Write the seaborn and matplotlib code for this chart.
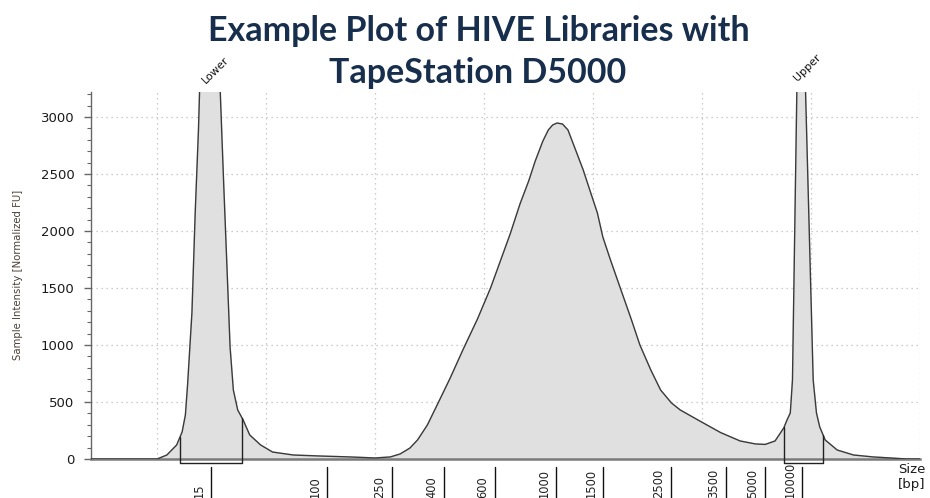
import numpy as np
import pandas as pd
import matplotlib
matplotlib.use("Agg")
import matplotlib.pyplot as plt
import seaborn as sns
from matplotlib.ticker import MultipleLocator

# electropherogram trace: migration position (grid units) vs. intensity [FU]
trace_pos = [0.39, 1.00, 1.09, 1.18, 1.23, 1.26, 1.28, 1.32, 1.35, 1.38, 1.39,
             1.495,
             1.58, 1.61, 1.64, 1.67, 1.70, 1.74, 1.79, 1.85, 1.95, 2.06, 2.25,
             2.50, 2.77, 3.00, 3.14, 3.23, 3.32, 3.39, 3.48, 3.57, 3.69, 3.81,
             3.94, 4.06, 4.15, 4.24, 4.33, 4.41, 4.47, 4.54, 4.59, 4.63, 4.67,
             4.72, 4.77, 4.84, 4.91, 4.97, 5.04, 5.09, 5.16, 5.25, 5.35, 5.43,
             5.53, 5.62, 5.72, 5.80, 5.98, 6.17, 6.35, 6.49, 6.58, 6.67, 6.75,
             6.78, 6.81, 6.83, 6.87,
             6.908,
             6.95, 7.02, 7.05, 7.08, 7.13, 7.24, 7.39, 7.57, 7.73, 7.88, 8.00]
trace_fu = [0, 0, 35, 123, 237, 386, 649, 1281, 2158, 2886, 3219,
            5600,
            3219, 2447, 1719, 982, 605, 430, 342, 211, 123, 61, 35,
            26, 18, 9, 18, 44, 96, 167, 298, 474, 711, 965,
            1228, 1500, 1737, 1974, 2237, 2439, 2614, 2789, 2886, 2930, 2947,
            2938, 2886, 2711, 2535, 2360, 2158, 1947, 1746, 1500, 1228, 1000,
            781, 605, 491, 430, 333, 232, 158, 132, 128, 158, 272,
            342, 404, 693, 3219,
            5000,
            3219, 693, 404, 281, 167, 79, 35, 18, 9, 0, 0]

# ladder sizes and where they sit on the run
ladder_bp = ["15", "100", "250", "400", "600", "1000", "1500", "2500",
             "3500", "5000", "10000"]
ladder_pos = [1.495, 2.56, 3.156, 3.633, 4.101, 4.661, 5.092, 5.716,
              6.22, 6.578, 6.917]

# marker peaks and their integration windows
marker_names = ["Lower", "Upper"]
marker_from = [1.211, 6.752]
marker_to = [1.780, 7.110]

W, H = 930, 498


def fig_xy(px, py):
    return px / W, 1 - py / H


sns.set_theme(style="white")
plt.rcParams["font.family"] = ["DejaVu Sans"]

fig = plt.figure(figsize=(W / 100, H / 100), dpi=100)
ax = fig.add_axes([91 / W, (H - 459) / H, (920 - 91) / W, (459 - 92) / H])

df = pd.DataFrame({"pos": trace_pos, "fu": trace_fu})
ax.fill_between(df["pos"], df["fu"], 0, color="#e0e0e0", zorder=1)
sns.lineplot(data=df, x="pos", y="fu", sort=False, ax=ax, color="#3a3a3a",
             lw=1.0, zorder=3)

ax.set_xlim(0.394, 8.0)
ax.set_ylim(0, 3219)

# dotted grid
ax.set_xticks(np.arange(1, 9))
ax.set_yticks(np.arange(0, 3001, 500))
ax.yaxis.set_minor_locator(MultipleLocator(100))
ax.grid(True, which="major", color="#bdbdbd", linestyle=(0, (1, 3)), lw=0.9)
ax.tick_params(axis="x", length=0, labelbottom=False)
ax.tick_params(axis="y", which="major", direction="out", length=5, width=1,
               color="#666666", pad=7, labelsize=9.5, labelcolor="#1a1a1a",
               left=True)
ax.tick_params(axis="y", which="minor", direction="out", length=3, width=0.8,
               color="#666666", left=True)

for s in ["top", "right"]:
    ax.spines[s].set_visible(False)
ax.spines["left"].set_color("#666666")
ax.spines["left"].set_linewidth(1.0)
ax.spines["bottom"].set_color("#7a7a7a")
ax.spines["bottom"].set_linewidth(1.8)
ax.spines["bottom"].set_zorder(2)
ax.set_xlabel("")
ax.set_ylabel("")

# marker brackets below the baseline
ybr = -35
for a, b in zip(marker_from, marker_to):
    ha_ = np.interp(a, trace_pos, trace_fu)
    hb_ = np.interp(b, trace_pos, trace_fu)
    ax.plot([a, a, b, b], [ha_, ybr, ybr, hb_], color="#222222", lw=1.0,
            clip_on=False, zorder=4)

# ladder ticks and labels (cut by the lower edge, as in the instrument export)
for lab, p in zip(ladder_bp, ladder_pos):
    ax.plot([p, p], [-70, -400], color="#111111", lw=1.0, clip_on=False)
    ax.annotate(lab, xy=(p, 0), xycoords="data", xytext=(-8.6, -28.0),
                textcoords="offset points", rotation=90, ha="center",
                va="bottom", fontsize=8.3, color="#222222",
                annotation_clip=False)

# marker names
for name, (px, py) in zip(marker_names, [(200, 85), (792, 83)]):
    fx, fy = fig_xy(px, py)
    fig.text(fx, fy, name, rotation=45, ha="left", va="bottom", fontsize=8,
             color="#111111")

fx, fy = fig_xy(898, 469)
fig.text(fx, fy, "Size", ha="left", va="center", fontsize=9.5, color="#1a1a1a")
fx, fy = fig_xy(898, 484)
fig.text(fx, fy, "[bp]", ha="left", va="center", fontsize=9.5, color="#1a1a1a")

fx, fy = fig_xy(18, 275)
fig.text(fx, fy, "Sample Intensity [Normalized FU]", rotation=90,
         ha="center", va="center", fontsize=7.3, color="#4a4038")

# title
title_col = "#172e4c"
fx, fy = fig_xy(479, 31)
fig.text(fx, fy, "Example Plot of HIVE Libraries with", ha="center",
         va="center", fontsize=24.5, fontweight="bold", color=title_col,
         family=["Lato", "DejaVu Sans"])
fx, fy = fig_xy(478, 73)
fig.text(fx, fy, "TapeStation D5000", ha="center", va="center", fontsize=24.5,
         fontweight="bold", color=title_col, family=["Lato", "DejaVu Sans"])

fig.savefig("out.png", dpi=100)
